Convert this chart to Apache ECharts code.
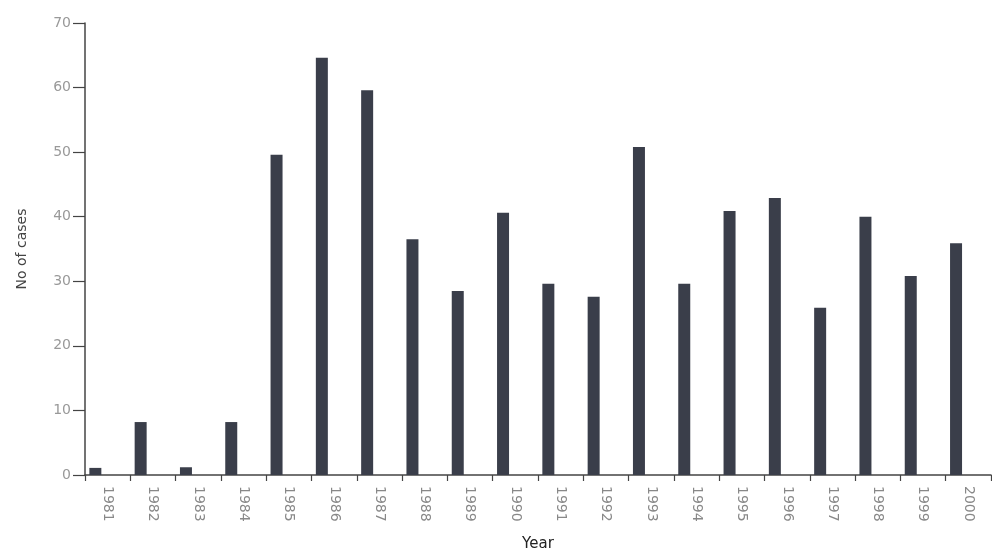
<!DOCTYPE html>
<html>
<head>
<meta charset="utf-8">
<script src="https://cdn.jsdelivr.net/npm/echarts@6/dist/echarts.min.js"></script>
<style>
html,body{margin:0;padding:0;background:#fff;}
#chart{width:992px;height:555px;}
</style>
</head>
<body>
<div id="chart"></div>
<script>
const years = ['1981','1982','1983','1984','1985','1986','1987','1988','1989','1990','1991','1992','1993','1994','1995','1996','1997','1998','1999','2000'];
const cases = [1.1, 8.2, 1.2, 8.2, 49.6, 64.6, 59.6, 36.5, 28.5, 40.6, 29.6, 27.6, 50.8, 29.6, 40.9, 42.9, 25.9, 40.0, 30.8, 35.9];
const yTicks = [0, 10, 20, 30, 40, 50, 60, 70];

const chart = echarts.init(document.getElementById('chart'));
chart.setOption({
  backgroundColor: '#ffffff',
  animation: false,
  grid: { left: 85, right: 1, top: 23, bottom: 80, containLabel: false, outerBoundsMode: 'none' },
  xAxis: {
    type: 'category',
    data: years,
    name: 'Year',
    nameLocation: 'middle',
    nameGap: 62,
    nameTextStyle: { color: '#222', fontSize: 15, fontFamily: 'DejaVu Sans' },
    axisLine: { lineStyle: { color: '#444', width: 1.5 } },
    axisTick: { show: true, length: 6, lineStyle: { color: '#444', width: 1.2 } },
    axisLabel: { rotate: -90, color: '#888', fontSize: 14, fontFamily: 'DejaVu Sans', margin: 11 },
    splitLine: { show: false }
  },
  yAxis: {
    type: 'value',
    min: yTicks[0],
    max: yTicks[yTicks.length - 1],
    interval: 10,
    name: 'No of cases',
    nameLocation: 'middle',
    nameGap: 56,
    nameTextStyle: { color: '#444', fontSize: 14, fontFamily: 'DejaVu Sans' },
    axisLine: { show: true, lineStyle: { color: '#444', width: 1.5 } },
    axisTick: { show: true, length: 12, lineStyle: { color: '#444', width: 1.2 } },
    axisLabel: { color: '#999', fontSize: 14, fontFamily: 'DejaVu Sans', margin: 14 },
    splitLine: { show: false }
  },
  series: [
    {
      type: 'bar',
      data: cases,
      barWidth: 12,
      barGap: '105%',
      itemStyle: { color: '#3a3e4a' }
    },
    {
      type: 'bar',
      data: [],
      barWidth: 12,
      barGap: '105%',
      itemStyle: { color: 'transparent' }
    }
  ]
});
</script>
</body>
</html>
